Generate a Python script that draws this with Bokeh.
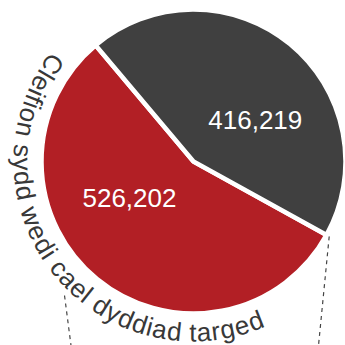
import numpy as np
from bokeh.plotting import figure
from bokeh.models import Range1d, ColumnDataSource
from bokeh.core.properties import value
from bokeh.embed import file_html
from bokeh.resources import INLINE

# ---------------- data ----------------
slices = ["Wedi cael dyddiad targed", "Heb gael dyddiad targed"]
values = [526202, 416219]
value_labels = ["526,202", "416,219"]
colors = ["#b21f25", "#404040"]
arc_title = "Cleifion sydd wedi cael dyddiad targed"

# ---------------- layout ----------------
W = H = 345
CX, CY = 193.0, 184.0
R = 152.0
START_DEG = 130.1            # where the first (red) slice begins, counter-clockwise
LABEL_R = 74.0
LABEL_SHIFT_DEG = [-20.5, -17.2]
FONT = "Liberation Sans"

p = figure(width=W, height=H, output_backend="svg", toolbar_location=None,
           x_range=Range1d(0, W), y_range=Range1d(0, H), min_border=0)
p.axis.visible = False
p.grid.visible = False
p.outline_line_color = None
p.background_fill_color = "white"
p.border_fill_color = "white"

vals = np.array(values, dtype=float)
frac = vals / vals.sum()
cum = np.concatenate([[0.0], np.cumsum(frac)])
start = np.deg2rad(START_DEG + cum[:-1] * 360.0)
end = np.deg2rad(START_DEG + cum[1:] * 360.0)
mid = (start + end) / 2

# connector lines (drawn first, behind the pie)
right_ang = end[0]
conn_x0 = [CX + (R + 3) * np.cos(right_ang), CX + 186 * np.cos(np.deg2rad(226.1))]
conn_y0 = [CY + (R + 3) * np.sin(right_ang), CY + 186 * np.sin(np.deg2rad(226.1))]
conn_x1 = [318.0, 70.5]
conn_y1 = [0.0, 0.0]
p.segment(x0=conn_x0, y0=conn_y0, x1=conn_x1, y1=conn_y1,
          line_color="#444444", line_width=1.2, line_dash="4 4")

src = ColumnDataSource(dict(start=start, end=end, color=colors))
p.wedge(x=CX, y=CY, radius=R, start_angle="start", end_angle="end",
        fill_color="color", line_color="white", line_width=4.5, source=src)

# value labels
la = mid + np.deg2rad(LABEL_SHIFT_DEG)
lx = CX + LABEL_R * np.cos(la)
ly = CY + LABEL_R * np.sin(la)
p.text(x=lx, y=ly + 1.0, text=value_labels, text_color="white",
       text_font=value(FONT), text_font_size="26px",
       text_align="center", text_baseline="alphabetic")

# curved title along the outside of the pie
widths = {" ": 278, "C": 722, "a": 556, "c": 500, "d": 556, "e": 556, "f": 278,
          "g": 556, "i": 222, "l": 222, "n": 556, "o": 556, "r": 333, "s": 500,
          "t": 278, "w": 722, "y": 500}
w = np.array([widths.get(ch, 556) for ch in arc_title], dtype=float)
centers = np.cumsum(w) - w / 2
t = (centers - centers[0]) / (centers[-1] - centers[0])
TH0, TH1 = np.deg2rad(145.3), np.deg2rad(291.3)
theta = TH0 + t * (TH1 - TH0)
R_BASE = 171.0
keep = [i for i, ch in enumerate(arc_title) if ch != " "]
cx_ = CX + R_BASE * np.cos(theta[keep])
cy_ = CY + R_BASE * np.sin(theta[keep])
p.text(x=cx_, y=cy_, text=[arc_title[i] for i in keep], angle=theta[keep] + np.pi / 2,
       text_color="#383838", text_font=value(FONT), text_font_size="26px",
       text_align="center", text_baseline="alphabetic")

open("out.html", "w").write(file_html(p, INLINE))
